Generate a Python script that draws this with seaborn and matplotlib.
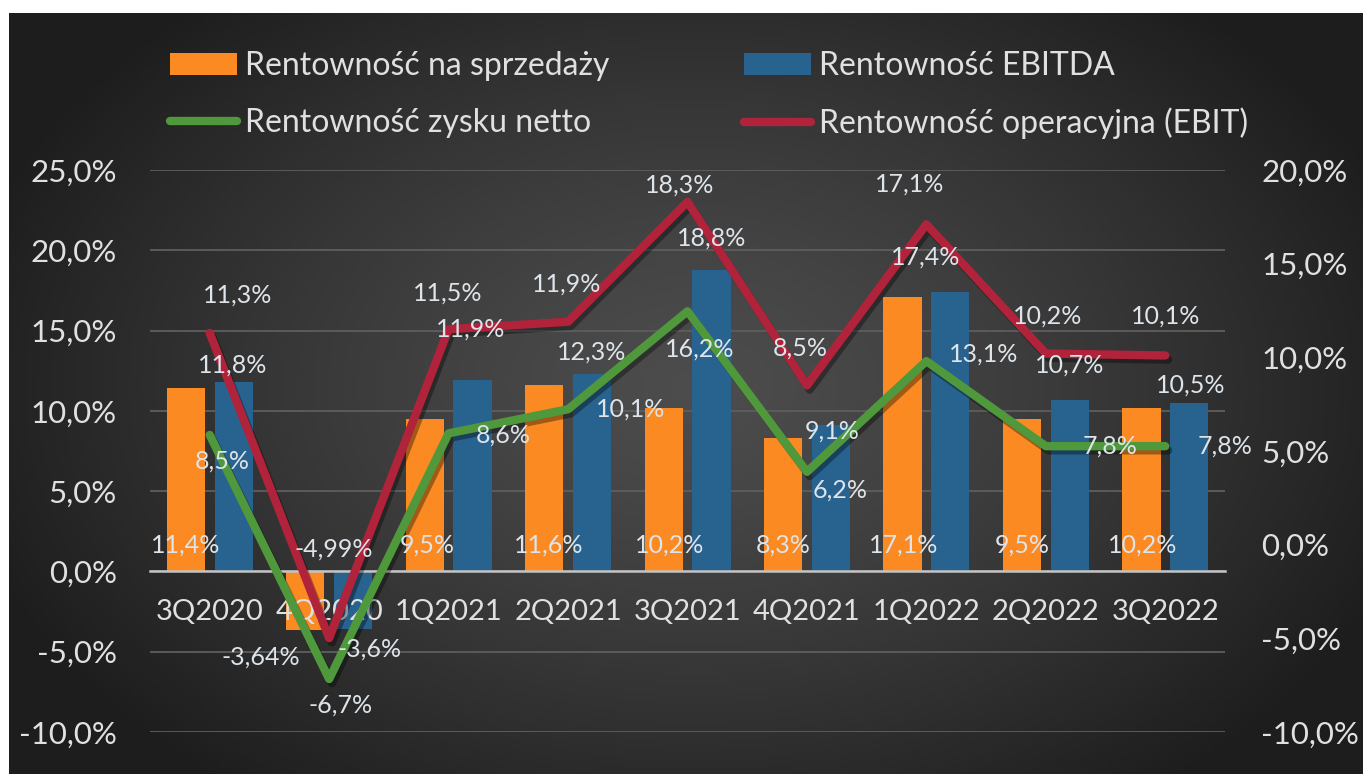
import numpy as np
import pandas as pd
import matplotlib
matplotlib.use("Agg")
import matplotlib.pyplot as plt
import matplotlib.patheffects as pe
from matplotlib.lines import Line2D
from matplotlib.patches import Patch
import seaborn as sns

# data (%)
quarters = ["3Q2020", "4Q2020", "1Q2021", "2Q2021", "3Q2021", "4Q2021", "1Q2022", "2Q2022", "3Q2022"]
sprzedaz = [11.4, -3.64, 9.5, 11.6, 10.2, 8.3, 17.1, 9.5, 10.2]
ebitda = [11.8, -3.6, 11.9, 12.3, 18.8, 9.1, 17.4, 10.7, 10.5]
netto = [8.5, -6.7, 8.6, 10.1, 16.2, 6.2, 13.1, 7.8, 7.8]
ebit = [11.3, -4.99, 11.5, 11.9, 18.3, 8.5, 17.1, 10.2, 10.1]

left_ticks = [-10, -5, 0, 5, 10, 15, 20, 25]
right_ticks = [-10, -5, 0, 5, 10, 15, 20]

names = ["Rentowność na sprzedaży", "Rentowność EBITDA",
         "Rentowność zysku netto", "Rentowność operacyjna (EBIT)"]

# label offsets in points, hand placed like in the original
off_sprz = [(0, 19), (-32, -62), (2, 19), (3, 19), (4, 19), (0, 19), (1, 19), (0, 19), (1, 19)]
off_ebitda = [(-1, 12), (12, -14), (-1, 37), (0, 16), (0, 23), (1, -4), (-18, 25), (0, 25), (1, 13)]
off_netto = [(9, -19), (8, -19), (39, -1), (45, 0), (9, -27), (24, -13), (41, 5), (46, 0), (43, 0)]
off_ebit = [(20, 27), (3, 64), (-1, 26), (-1, 27), (-6, 12), (-5, 27), (-12, 29), (1, 27), (0, 28)]

ORANGE = "#fb8a22"
BLUE = "#28628f"
GREEN = "#4f983c"
RED = "#b1233a"
TXT = "#e0e0e0"
LBL = "#dde4ea"

plt.rcParams["font.family"] = ["Lato", "DejaVu Sans"]


def pct(v, dec=1):
    return ("%.*f%%" % (dec, v)).replace(".", ",")


def lab(v):
    return ("%g%%" % v).replace(".", ",")


W, H = 1363, 774
fig = plt.figure(figsize=(W / 100, H / 100), dpi=100, facecolor="white")

# dark radial background like the excel chart style
bg = fig.add_axes([9 / W, 0, 1 - 9 / W, 1 - 13 / H])
gx, gy = np.meshgrid(np.linspace(0, W, 400), np.linspace(0, H, 240))
r = np.sqrt(((gx - 690) / 760) ** 2 + ((gy - 380) / 520) ** 2)
r = np.clip(r, 0, 1) ** 1.3
grad = 0.30 * (1 - r) + 0.115 * r
bg.imshow(np.dstack([grad, grad, grad]), aspect="auto", extent=[0, 1, 0, 1], origin="upper")
bg.axis("off")
bg.set_zorder(-10)

ax = fig.add_axes([150 / W, 1 - 732 / H, 1075 / W, 562 / H])
ax.patch.set_alpha(0)
ax2 = ax.twinx()
ax2.patch.set_alpha(0)

bars = pd.DataFrame({
    "kw": quarters * 2,
    "val": sprzedaz + ebitda,
    "seria": [names[0]] * len(quarters) + [names[1]] * len(quarters),
})
sns.barplot(data=bars, x="kw", y="val", hue="seria", palette={names[0]: ORANGE, names[1]: BLUE},
            gap=0.2, saturation=1, ax=ax, legend=False, zorder=2)

pos = np.arange(len(quarters))
shadow = [pe.SimpleLineShadow(offset=(2, -3), shadow_color="black", alpha=0.35), pe.Normal()]
sns.lineplot(x=pos, y=netto, ax=ax, color=GREEN, lw=6, solid_capstyle="round",
             path_effects=shadow, zorder=3)
sns.lineplot(x=pos, y=ebit, ax=ax2, color=RED, lw=6, solid_capstyle="round",
             path_effects=shadow, zorder=3)

ax.set_xlim(-0.5, len(quarters) - 0.5)
ax.set_ylim(left_ticks[0], left_ticks[-1])
ax2.set_ylim(right_ticks[0], right_ticks[-1])
ax.set_xticks(pos, quarters)
ax.set_yticks(left_ticks, [pct(t) for t in left_ticks])
ax2.set_yticks(right_ticks, [pct(t) for t in right_ticks])
ax.set_xlabel("")
ax.set_ylabel("")
ax2.set_ylabel("")

ax.yaxis.grid(True, color="#5e5e5e", lw=1.3)
ax.set_axisbelow(True)
ax.xaxis.set_zorder(2.2)  # category labels sit over the bars, like excel
for s in ["top", "left", "right"]:
    ax.spines[s].set_visible(False)
ax.spines["bottom"].set_position(("data", 0))
ax.spines["bottom"].set_color("#c4c4c4")
ax.spines["bottom"].set_linewidth(1.8)
ax.spines["bottom"].set_zorder(2.5)
for s in ax2.spines.values():
    s.set_visible(False)

ax.tick_params(axis="x", length=0, pad=20, labelsize=21, labelcolor=TXT)
ax.tick_params(axis="y", length=0, pad=24, labelsize=22.5, labelcolor=TXT)
ax2.tick_params(axis="y", length=0, pad=26, labelsize=22.5, labelcolor=TXT)

# data labels, all on top axis so they sit above the lines
def put(text, x, y, off, trans):
    ax2.annotate(text, xy=(x, y), xycoords=trans, xytext=off, textcoords="offset points",
                 ha="center", va="center", fontsize=18, color=LBL, zorder=10)


for i, b in enumerate(ax.containers[0]):
    put(lab(sprzedaz[i]), b.get_x() + b.get_width() / 2, 0, off_sprz[i], ax.transData)
for i, b in enumerate(ax.containers[1]):
    put(lab(ebitda[i]), b.get_x() + b.get_width() / 2, ebitda[i], off_ebitda[i], ax.transData)
for i in range(len(quarters)):
    put(lab(netto[i]), pos[i], netto[i], off_netto[i], ax.transData)
    put(lab(ebit[i]), pos[i], ebit[i], off_ebit[i], ax2.transData)

handles = [Patch(facecolor=ORANGE), Line2D([], [], color=GREEN, lw=6, solid_capstyle="round"),
           Patch(facecolor=BLUE), Line2D([], [], color=RED, lw=6, solid_capstyle="round")]
fig.legend(handles, [names[0], names[2], names[1], names[3]], ncol=2, loc="upper left",
           bbox_to_anchor=(170 / W, 1 - 51 / H), frameon=False, fontsize=23, labelcolor=TXT,
           handlelength=2.1, handletextpad=0.25, columnspacing=4.22, labelspacing=0.84,
           borderpad=0, borderaxespad=0)

fig.savefig("out.png", dpi=100)
